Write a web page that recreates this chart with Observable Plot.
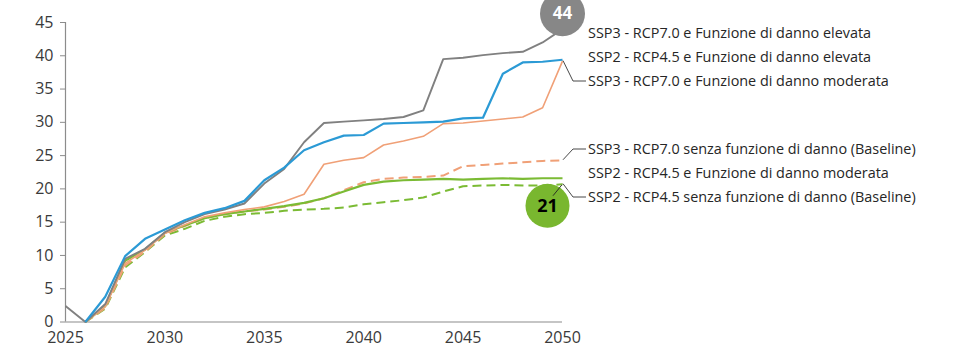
<!DOCTYPE html>
<html><head><meta charset="utf-8">
<script src="https://cdn.jsdelivr.net/npm/d3@7"></script>
<script src="https://cdn.jsdelivr.net/npm/@observablehq/plot@0.6"></script>
<style>
body{margin:0;background:#fff;font-family:"Open Sans",sans-serif}
svg{display:block}
</style></head><body><div id="chart"></div>
<script>
// ---- data ----
const years = [2025,2026,2027,2028,2029,2030,2031,2032,2033,2034,2035,2036,2037,2038,2039,2040,2041,2042,2043,2044,2045,2046,2047,2048,2049,2050];
const ssp3ElevataValues   = [2.4,0,2.7,9.5,11.0,13.5,15.0,16.2,16.9,17.8,20.8,23.0,27.0,29.9,30.1,30.3,30.5,30.8,31.8,39.5,39.7,40.1,40.4,40.6,42.0,44.0];
const ssp2ElevataValues   = [null,0,3.8,9.9,12.5,13.9,15.3,16.4,17.1,18.2,21.3,23.2,25.8,27.0,28.0,28.1,29.8,29.9,30.0,30.1,30.6,30.7,37.3,39.0,39.1,39.4];
const ssp3ModerataValues  = [null,0,2.3,8.8,10.8,13.3,14.6,15.8,16.4,16.9,17.3,18.1,19.2,23.7,24.3,24.7,26.6,27.2,27.9,29.8,29.9,30.2,30.5,30.8,32.2,39.2];
const ssp3BaselineValues  = [null,0,2.1,8.5,10.6,13.2,14.4,15.6,16.2,16.6,16.9,17.3,17.8,18.6,19.8,21.0,21.5,21.7,21.8,22.0,23.4,23.6,23.8,24.0,24.2,24.3];
const ssp2ModerataValues  = [null,0,2.4,9.2,10.9,13.4,14.5,15.6,16.2,16.6,17.0,17.4,17.9,18.6,19.6,20.6,21.1,21.3,21.4,21.5,21.4,21.5,21.6,21.5,21.6,21.6];
const ssp2BaselineValues  = [null,0,2.0,8.2,10.5,13.0,14.0,15.2,15.8,16.2,16.4,16.7,16.9,17.0,17.2,17.7,18.0,18.3,18.7,19.6,20.4,20.5,20.6,20.5,20.5,20.7];
const seriesNames = [
  "SSP3 - RCP7.0 e Funzione di danno elevata",
  "SSP2 - RCP4.5 e Funzione di danno elevata",
  "SSP3 - RCP7.0 e Funzione di danno moderata",
  "SSP3 - RCP7.0 senza funzione di danno (Baseline)",
  "SSP2 - RCP4.5 e Funzione di danno moderata",
  "SSP2 - RCP4.5 senza funzione di danno (Baseline)"
];
const yTicks = [0,5,10,15,20,25,30,35,40,45];
const xTicks = [2025,2030,2035,2040,2045,2050];
const bubbleLabels = ["44","21"];

// ---- styles / layout ----
const allValues = [ssp3ElevataValues, ssp2ElevataValues, ssp3ModerataValues, ssp3BaselineValues, ssp2ModerataValues, ssp2BaselineValues];
const colors = ["#808080","#2b9ad5","#f0a077","#f0a077","#7bbb34","#7bbb34"];
const widths = [1.9, 2.2, 1.6, 2.0, 2.2, 2.0];
const dashes = [null,null,null,"9,5",null,"9,5"];
const drawOrder = [5,3,4,2,0,1];
const labelPixelY = [33,57,81,149,173,197];
const hasLeader = [false,false,true,true,false,true];

const rows = allValues.map(vals => years.map((year,i) => ({year, value: vals[i]})));

const lineMarks = drawOrder.map(k => Plot.line(rows[k], {
  x: "year", y: "value", stroke: colors[k], strokeWidth: widths[k],
  strokeDasharray: dashes[k], strokeLinejoin: "round", strokeLinecap: "butt"
}));

const grayEnd = [{year: years[years.length-1], value: ssp3ElevataValues[ssp3ElevataValues.length-1], label: bubbleLabels[0]}];
const greenEnd = [{year: years[years.length-1], value: ssp2BaselineValues[ssp2BaselineValues.length-1], label: bubbleLabels[1]}];

const plot = Plot.plot({
  width: 953, height: 347,
  marginLeft: 65, marginRight: 391, marginTop: 22, marginBottom: 25.5,
  x: {domain: [2025, 2050]},
  y: {domain: [0, 45]},
  style: {fontFamily: "'Open Sans', sans-serif", fontSize: "16px", color: "#3a3a3a", background: "white"},
  marks: [
    Plot.axisY({ticks: yTicks, tickSize: 5, tickPadding: 7, stroke: "#8c8c8c", label: null, tickFormat: d => String(d)}),
    Plot.axisX({ticks: xTicks, tickSize: 0, tickPadding: 10, label: null, tickFormat: d => String(d)}),
    Plot.ruleX([2025], {stroke: "#8c8c8c", strokeWidth: 1.2}),
    Plot.ruleY([0], {stroke: "#8c8c8c", strokeWidth: 1.2}),
    ...lineMarks,
    Plot.dot(grayEnd, {x: "year", y: "value", dy: -15.5, r: 22.5, fill: "#878787", stroke: "none"}),
    Plot.text(grayEnd, {x: "year", y: "value", dy: -15.5, text: "label", fill: "white", fontWeight: "bold", fontSize: 17, style: "letter-spacing:-1px"}),
    Plot.dot(greenEnd, {x: "year", y: "value", dx: -15, dy: 21.5, r: 22, fill: "#79b72f", stroke: "none"}),
    Plot.text(greenEnd, {x: "year", y: "value", dx: -15, dy: 22, text: "label", fill: "black", fontWeight: "bold", fontSize: 18, style: "letter-spacing:-1px"})
  ]
});

document.getElementById("chart").appendChild(plot);

// ---- labels & leader lines (positioned through Plot's scales) ----
const sx = plot.scale("x"), sy = plot.scale("y");
const svg = d3.select(plot);
const g = svg.append("g").attr("text-anchor", "start");
const xEnd = sx.apply(years[years.length-1]);
seriesNames.forEach((name, k) => {
  const vals = allValues[k];
  const yEnd = sy.apply(vals[vals.length-1]);
  const ly = labelPixelY[k];
  if (hasLeader[k]) {
    g.append("path")
      .attr("d", `M${xEnd+1},${yEnd} L${xEnd+11},${ly} L${xEnd+24},${ly}`)
      .attr("fill","none").attr("stroke","#333").attr("stroke-width",0.9);
  }
  g.append("text").attr("x", xEnd+26).attr("y", ly).attr("dy","0.35em")
    .attr("text-anchor","start")
    .attr("font-family","'Open Sans', sans-serif").attr("font-size",14.4).attr("fill","#262626")
    .text(name);
});
// connector from green bubble to its line end
{
  const yEnd = sy.apply(ssp2BaselineValues[ssp2BaselineValues.length-1]);
  g.append("line").attr("x1", xEnd-9).attr("y1", yEnd+12).attr("x2", xEnd).attr("y2", yEnd+1)
    .attr("stroke","#222").attr("stroke-width",0.9);
}
</script></body></html>
